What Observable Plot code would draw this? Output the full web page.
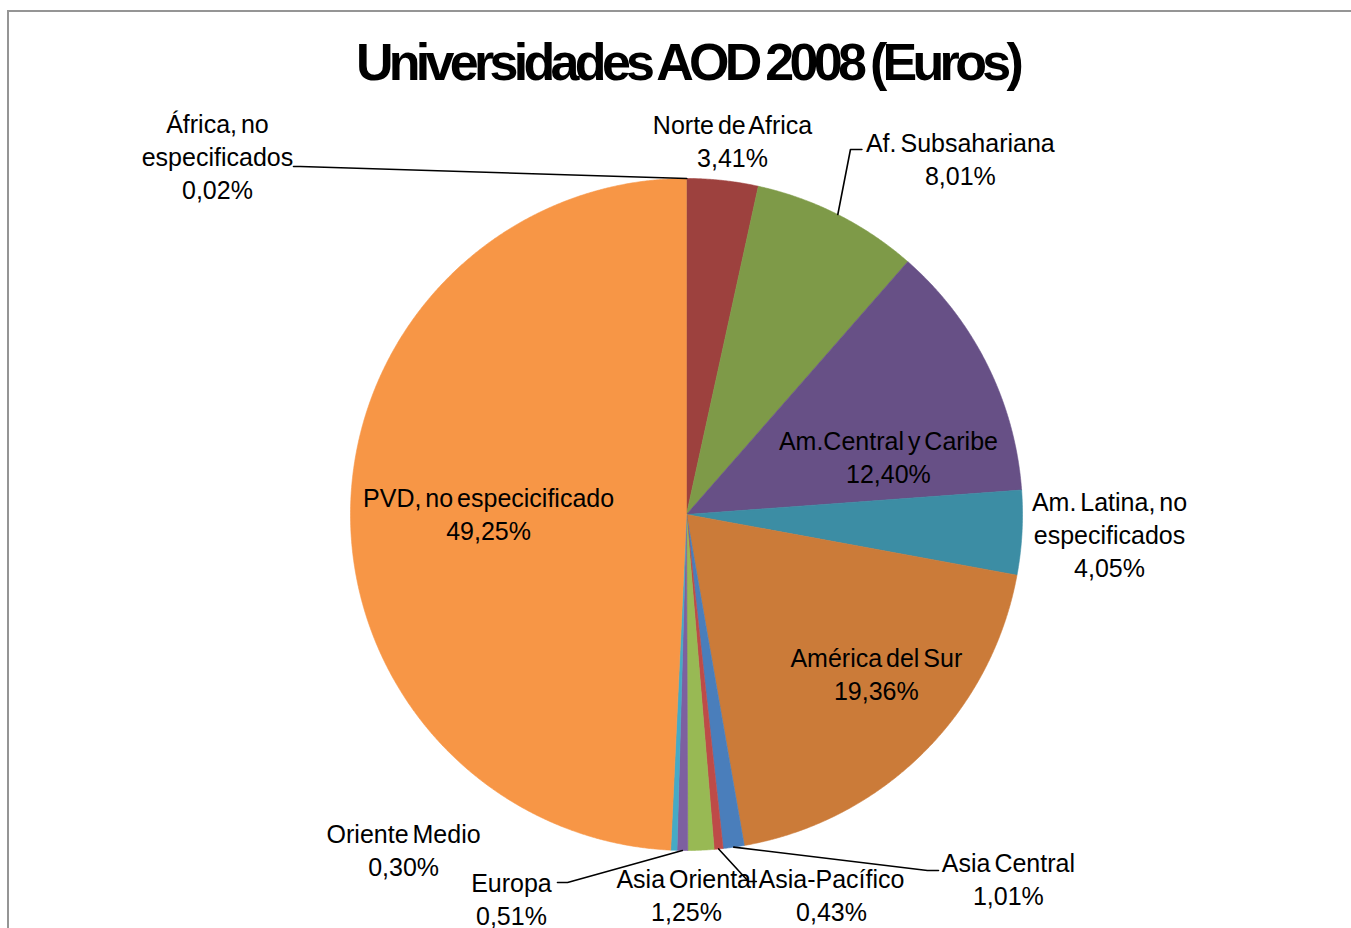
<!DOCTYPE html>
<html>
<head>
<meta charset="utf-8">
<script src="https://cdn.jsdelivr.net/npm/d3@7"></script>
<script src="https://cdn.jsdelivr.net/npm/@observablehq/plot@0.6"></script>
<style>
  html, body { margin: 0; padding: 0; background: #fff; overflow: hidden; width: 1351px; height: 928px; }
  #frame { position: absolute; left: 7px; top: 10px; width: 1400px; height: 1000px; border: 2px solid #959595; box-sizing: border-box; }
  #title { position: absolute; left: 12px; top: 36px; width: 1351px; text-align: center;
    font-family: "Liberation Sans", Arial, sans-serif; font-weight: bold; font-size: 52px; line-height: 52px;
    letter-spacing: -4.7px; word-spacing: -2px; color: #000; }
  #chart { position: absolute; left: 0; top: 100px; }
  #chart svg text { word-spacing: -3px; }
</style>
</head>
<body>
<div id="frame"></div>
<div id="title">Universidades AOD 2008 (Euros)</div>
<div id="chart"></div>
<script>
// ---- data ----
const names = [
  "África, no especificados", "Norte de Africa", "Af. Subsahariana", "Am.Central y Caribe",
  "Am. Latina, no especificados", "América del Sur", "Asia Central", "Asia-Pacífico",
  "Asia Oriental", "Europa", "Oriente Medio", "PVD, no especicificado"
];
const labelNames = [
  "África, no\nespecificados", "Norte de Africa", "Af. Subsahariana", "Am.Central y Caribe",
  "Am. Latina, no\nespecificados", "América del Sur", "Asia Central", "Asia-Pacífico",
  "Asia Oriental", "Europa", "Oriente Medio", "PVD, no especicificado"
];
const shares = [0.02, 3.41, 8.01, 12.40, 4.05, 19.36, 1.01, 0.43, 1.25, 0.51, 0.30, 49.25];
const colors = [
  "#3F6797", "#9D413E", "#7E9A48", "#675086", "#3C8DA4", "#CB7B39",
  "#4A7EBB", "#BE4B48", "#98B954", "#7D60A0", "#46AAC5", "#F79646"
];

// ---- layout (label centres and leader elbows, in pie-radius units from the centre) ----
const labelPos = [
  [-1.396, 1.068], [0.137, 1.115], [0.815, 1.061], [0.601, 0.174],
  [1.259, -0.057], [0.565, -0.472], [0.958, -1.082], [0.4315, -1.129],
  [0.0, -1.129], [-0.521, -1.141], [-0.842, -0.9955], [-0.589, 0.004]
];
const leaderElbows = [
  [[-1.149, 1.0357], [-1.1696, 1.0357]],
  null,
  [[0.488, 1.0863], [0.522, 1.0863]],
  null, null, null,
  [[0.717, -1.0595], [0.75, -1.0595]],
  [[0.1845, -1.0923], [0.208, -1.0923]],
  null,
  [[-0.354, -1.0952], [-0.384, -1.0952]],
  null, null
];

// ---- geometry from the data ----
const arcs = d3.pie().sort(null).value(d => d)(shares);
const slicePts = [];
arcs.forEach((a, i) => {
  const n = Math.max(2, Math.ceil((a.endAngle - a.startAngle) / (Math.PI / 720)));
  slicePts.push({name: names[i], x: 0, y: 0});
  for (let k = 0; k <= n; k++) {
    const t = a.startAngle + (a.endAngle - a.startAngle) * k / n;
    slicePts.push({name: names[i], x: Math.sin(t), y: Math.cos(t)});
  }
  slicePts.push({name: names[i], x: 0, y: 0});
});

const leaderPts = [];
arcs.forEach((a, i) => {
  if (!leaderElbows[i]) return;
  const m = (a.startAngle + a.endAngle) / 2;
  leaderPts.push({name: names[i], x: Math.sin(m), y: Math.cos(m)});
  leaderElbows[i].forEach(p => leaderPts.push({name: names[i], x: p[0], y: p[1]}));
});

const fmt = v => v.toFixed(2).replace(".", ",") + "%";
const labels = names.map((n, i) => ({
  name: n,
  text: labelNames[i] + "\n" + fmt(shares[i]),
  x: labelPos[i][0],
  y: labelPos[i][1]
}));

const cx = 686, cy = 414, r = 336;
const chart = Plot.plot({
  width: 1351,
  height: 828,
  margin: 0,
  x: {domain: [-1, 1], range: [cx - r, cx + r], axis: null},
  y: {domain: [-1, 1], range: [cy + r, cy - r], axis: null},
  color: {domain: names, range: colors},
  style: {fontFamily: "'Liberation Sans', Arial, sans-serif", background: "transparent", overflow: "visible"},
  marks: [
    Plot.line(slicePts, {x: "x", y: "y", z: "name", fill: "name", stroke: "name", strokeWidth: 0.6, curve: "linear"}),
    Plot.line(leaderPts, {x: "x", y: "y", z: "name", stroke: "#000", strokeWidth: 1.6, curve: "linear"}),
    Plot.text(labels, {x: "x", y: "y", text: "text", fontSize: 25, lineHeight: 1.32, fill: "#000", textAnchor: "middle"})
  ]
});
document.getElementById("chart").appendChild(chart);
</script>
</body>
</html>
